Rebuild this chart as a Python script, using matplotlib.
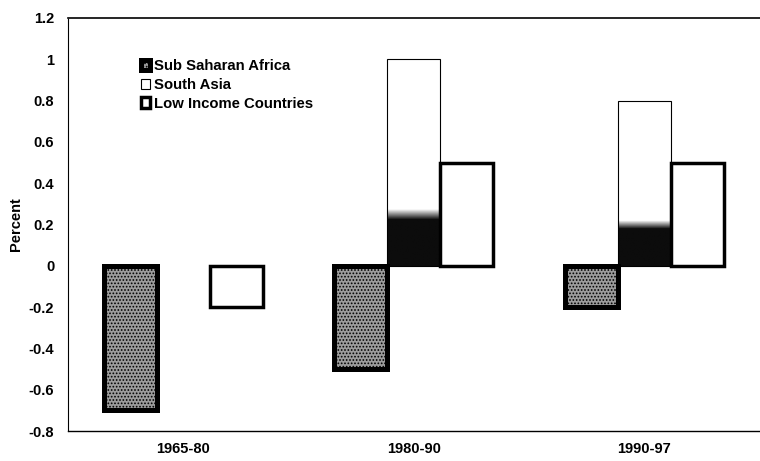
import numpy as np
import matplotlib.pyplot as plt

### DATA ###

periods = ["1965-80", "1980-90", "1990-97"]
series = ["Sub Saharan Africa", "South Asia", "Low Income Countries"]
ssa = [-0.7, -0.5, -0.2]
south_asia = [0.0, 1.0, 0.8]
low_income = [-0.2, 0.5, 0.5]

### SETTINGS ###

plt.rcParams['font.family'] = ['Liberation Sans', 'DejaVu Sans']
plt.rcParams['font.weight'] = 'bold'
plt.rcParams['hatch.linewidth'] = 0.8

fig = plt.figure(figsize=(7.6, 4.61), dpi=100)
ax = fig.add_axes([0.0895, 0.065, 0.91, 0.896])

x = np.arange(len(periods))
w = 0.23

b1 = ax.bar(x - w, ssa, w, facecolor='#9c9c9c', edgecolor='black',
            linewidth=3.6, hatch='.....', label=series[0], zorder=3)
b2 = ax.bar(x, south_asia, w, facecolor='none', edgecolor='black',
            linewidth=0.8, label=series[1], zorder=3)
b3 = ax.bar(x + w, low_income, w, facecolor='white', edgecolor='black',
            linewidth=2.5, label=series[2], zorder=3)

ax.legend(loc='upper left', bbox_to_anchor=(141 / 760, 1 - 59 / 461),
          bbox_transform=fig.transFigure, frameon=False, fontsize=10.7,
          handlelength=0.6, handleheight=0.7, handletextpad=0.3,
          labelspacing=0.33, borderaxespad=0, borderpad=0)

# no outline for empty bars
for bars, vals in [(b1, ssa), (b2, south_asia), (b3, low_income)]:
    for p, v in zip(bars, vals):
        if v == 0:
            p.set_linewidth(0)

# dark lower part of the South Asia bars (as in the scanned original)
shade = np.ones((100, 1))
shade[:22] = 0.05
shade[22:28] = np.linspace(0.05, 1, 6)[:, None]
for p, v in zip(b2, south_asia):
    if v == 0:
        continue
    x0, y0 = p.get_x(), p.get_y()
    im = ax.imshow(shade, extent=(x0, x0 + p.get_width(), y0, y0 + p.get_height()),
                   origin='lower', cmap='gray', vmin=0, vmax=1, aspect='auto',
                   interpolation='bilinear', zorder=2.9)
    im.set_clip_path(p)

ax.set_xlim(-0.5, 2.5)
ax.set_ylim(-0.8, 1.2)
yt = np.arange(-0.8, 1.21, 0.2)
ax.set_yticks(yt)
ax.set_yticklabels([f"{t:g}" if abs(t) > 1e-9 else "0" for t in yt])
ax.set_xticks(x)
ax.set_xticklabels(periods)
ax.tick_params(axis='both', length=0, labelsize=10.5)
ax.tick_params(axis='y', pad=10)
ax.tick_params(axis='x', pad=8)

ax.set_ylabel("Percent", fontsize=10.5, fontweight='bold', labelpad=4)

ax.spines['right'].set_visible(False)
ax.spines['top'].set_linewidth(1.2)
ax.spines['left'].set_linewidth(0.8)
ax.spines['left'].set_linestyle((0, (3, 1)))
ax.spines['bottom'].set_linewidth(1.0)
ax.spines['bottom'].set_linestyle((0, (2, 1)))

fig.savefig("out.png", dpi=100)
